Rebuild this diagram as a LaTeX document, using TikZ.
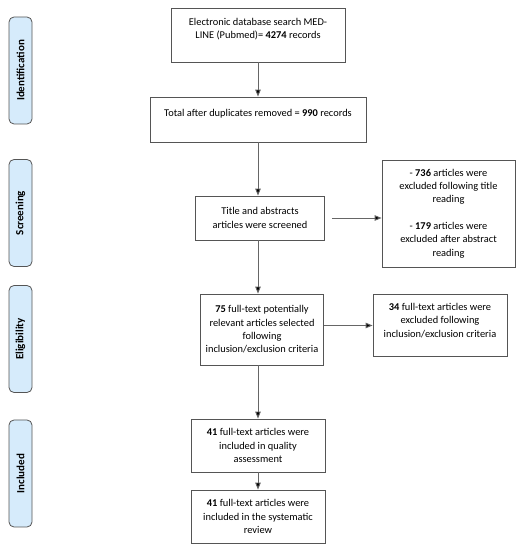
\documentclass[tikz,border=0pt]{standalone}
\usepackage{fontspec}
\setmainfont{Carlito}
\usetikzlibrary{arrows.meta}
\definecolor{cframe}{HTML}{555555}
\definecolor{cline}{HTML}{666666}
\definecolor{ctab}{HTML}{D6EBFB}

\begin{document}
\begin{tikzpicture}[x=1pt,y=1pt,
  box/.style={draw=cframe,line width=0.8pt,align=center,inner sep=1pt,
    font=\fontsize{10.4}{13.3}\selectfont},
  tab/.style={draw=cframe,fill=ctab,rounded corners=5pt,line width=0.8pt,
    minimum width=107pt,minimum height=23pt,rotate=90,
    font=\fontsize{11}{12}\selectfont\bfseries},
  flow/.style={draw=cline,line width=0.9pt,
    -{Triangle[length=7pt,width=5.5pt,fill=black]}}]
  \useasboundingbox (0,0) rectangle (521,550);
  % phase tabs
  \node[tab] (tid) at (20.5,479.5) {Identification};
  \node[tab] (tsc) at (20.5,337) {Screening};
  \node[tab] (tel) at (20.5,211) {Eligibility};
  \node[tab] (tin) at (20.5,76.5) {Included};
  % main column
  \node[box,minimum width=174pt,minimum height=54pt] (search) at (258,515)
    {Electronic database search MED-\\LINE (Pubmed)= \textbf{4274} records\\~};
  \node[box,minimum width=216pt,minimum height=45pt] (dupl) at (258,430.5)
    {Total after duplicates removed = \textbf{990} records\\~};
  \node[box,minimum width=129pt,minimum height=44pt] (screen) at (260,332)
    {Title and abstracts\\articles were screened};
  \node[box,minimum width=123pt,minimum height=71pt] (full) at (262,220.5)
    {\textbf{75} full-text potentially\\relevant articles selected\\following\\inclusion/exclusion criteria};
  \node[box,minimum width=134pt,minimum height=53pt] (quality) at (258,104.5)
    {\textbf{41} full-text articles were\\included in quality\\assessment};
  \node[box,minimum width=134pt,minimum height=53pt] (review) at (258,33.5)
    {\textbf{41} full-text articles were\\included in the systematic\\review};
  % exclusions
  \node[box,minimum width=133pt,minimum height=107pt] (excl1) at (448.5,336.5)
    {- \textbf{736} articles were\\excluded following title\\reading\\[13.3pt]- \textbf{179} articles were\\excluded after abstract\\reading};
  \node[box,minimum width=134pt,minimum height=62pt] (excl2) at (440,225)
    {\textbf{34} full-text articles were\\excluded following\\inclusion/exclusion criteria\\[-4pt]~};
  % connectors
  \draw[flow] (search.south) -- (search.south |- dupl.north);
  \draw[flow] (dupl.south) -- (dupl.south |- screen.north);
  \draw[flow] (dupl.south |- screen.south) -- (dupl.south |- full.north);
  \draw[flow] (dupl.south |- full.south) -- (dupl.south |- quality.north);
  \draw[flow] (quality.south) -- (review.north);
  \draw[flow,shorten <=7pt] (screen.east) -- (screen.east -| excl1.west);
  \draw[flow] ([yshift=4pt]full.east) -- ([yshift=4pt]full.east -| excl2.west);
\end{tikzpicture}
\end{document}
